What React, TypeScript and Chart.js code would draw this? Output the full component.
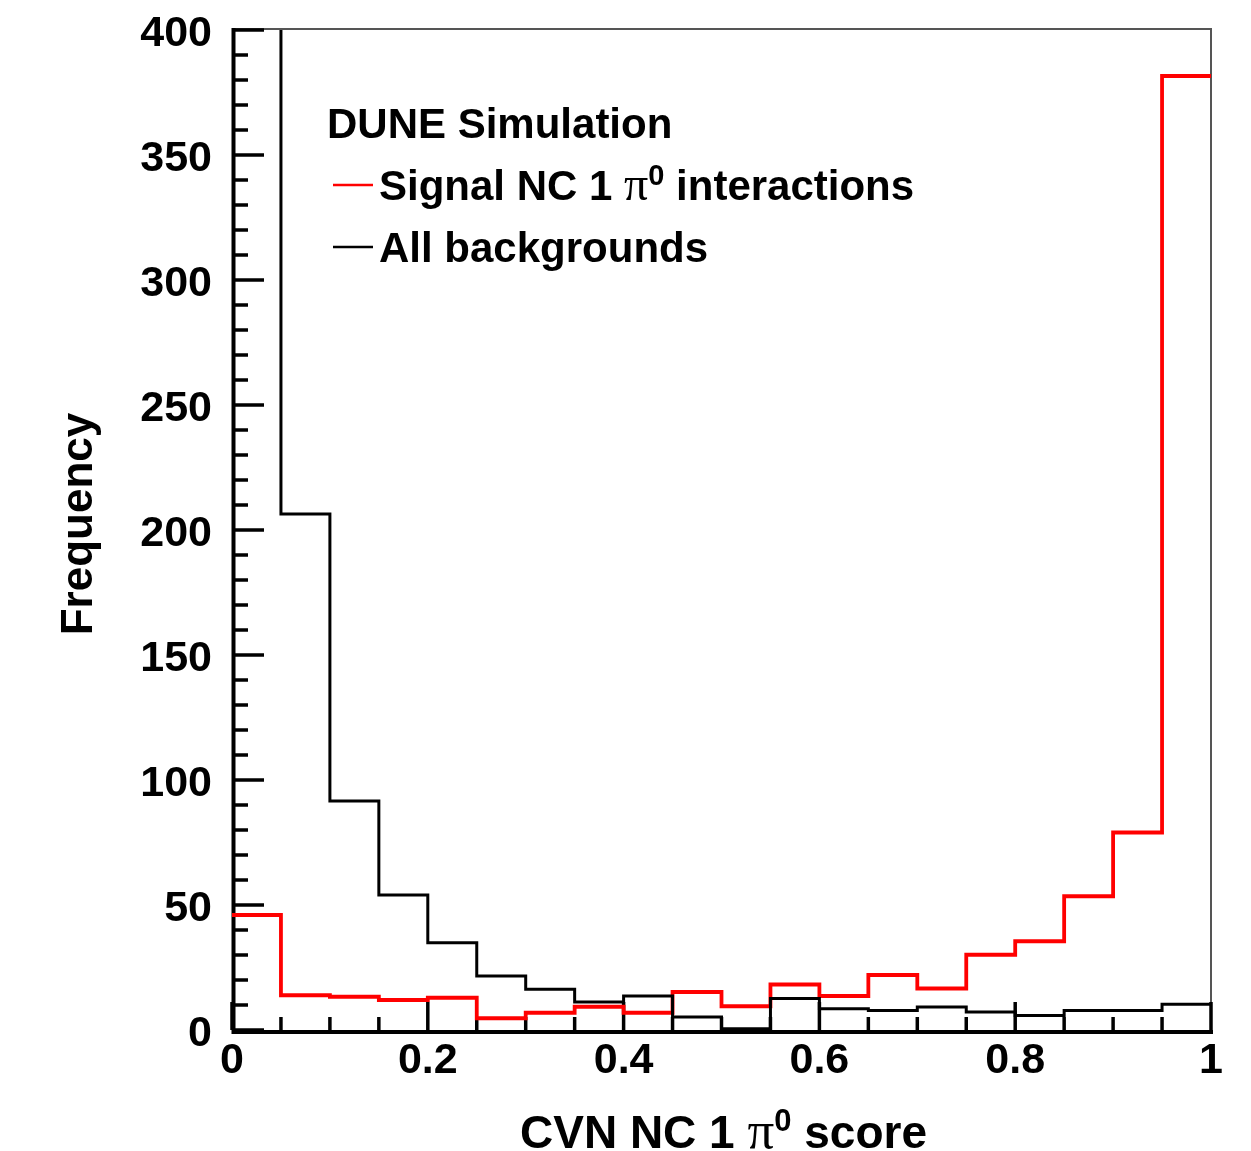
import React, { useEffect, useRef } from 'react';
import { Chart, registerables } from 'chart.js';

Chart.register(...registerables);

// ---- data ----
const binEdges = [0, 0.05, 0.1, 0.15, 0.2, 0.25, 0.3, 0.35, 0.4, 0.45, 0.5, 0.55, 0.6, 0.65, 0.7, 0.75, 0.8, 0.85, 0.9, 0.95, 1.0];
const signalCounts = [46, 13.9, 13.3, 12, 12.9, 4.7, 6.9, 9.3, 6.9, 15.2, 9.5, 18.2, 13.6, 22, 16.6, 30.1, 35.5, 53.5, 79, 381.6];
const backgroundCounts = [600, 206.4, 91.6, 54, 34.9, 21.6, 16.3, 11.2, 13.6, 5.2, 0.5, 12.6, 8.5, 7.8, 9.2, 7.2, 5.8, 7.8, 7.8, 10.3];

const yMajorTicks = [0, 50, 100, 150, 200, 250, 300, 350, 400];
const yMinorTicks = [10, 20, 30, 40, 60, 70, 80, 90, 110, 120, 130, 140, 160, 170, 180, 190, 210, 220, 230, 240, 260, 270, 280, 290, 310, 320, 330, 340, 360, 370, 380, 390];
const xMajorTicks = [0, 0.2, 0.4, 0.6, 0.8, 1];
const xMinorTicks = [0.05, 0.1, 0.15, 0.25, 0.3, 0.35, 0.45, 0.5, 0.55, 0.65, 0.7, 0.75, 0.85, 0.9, 0.95];

const seriesNames = ['Signal NC 1 π⁰ interactions', 'All backgrounds'];
const legendHeader = 'DUNE Simulation';
const xTitle = 'CVN NC 1 π⁰ score';
const yTitle = 'Frequency';

const SANS = '"Liberation Sans", Arial, Helvetica, sans-serif';
const SERIF = '"Liberation Serif", "Times New Roman", serif';

function histPoints(counts: number[]) {
  const pts = counts.map((c, i) => ({ x: binEdges[i], y: c }));
  pts.push({ x: binEdges[binEdges.length - 1], y: counts[counts.length - 1] });
  return pts;
}

type Seg = { text: string; font: string; dy: number };

// split a label into segments, rendering π in serif and ⁰ as a raised 0
function richSegments(label: string, size: number): Seg[] {
  const segs: Seg[] = [];
  const bold = `bold ${size}px ${SANS}`;
  let buf = '';
  const flush = () => {
    if (buf) segs.push({ text: buf, font: bold, dy: 0 });
    buf = '';
  };
  for (const ch of label) {
    if (ch === 'π') {
      flush();
      segs.push({ text: 'π', font: `${Math.round(size * 1.15)}px ${SERIF}`, dy: 0 });
    } else if (ch === '⁰') {
      flush();
      segs.push({ text: '0', font: `bold ${Math.round(size * 0.68)}px ${SANS}`, dy: -size * 0.36 });
    } else {
      buf += ch;
    }
  }
  flush();
  return segs;
}

function drawRich(ctx: CanvasRenderingContext2D, segs: Seg[], x: number, y: number, align: 'left' | 'center') {
  ctx.textAlign = 'left';
  ctx.textBaseline = 'alphabetic';
  let total = 0;
  for (const s of segs) {
    ctx.font = s.font;
    total += ctx.measureText(s.text).width;
  }
  let cx = align === 'center' ? x - total / 2 : x;
  for (const s of segs) {
    ctx.font = s.font;
    ctx.fillText(s.text, cx, y + s.dy);
    cx += ctx.measureText(s.text).width;
  }
}

const decorPlugin = {
  id: 'rootDecor',
  beforeDatasetsDraw(chart: any) {
    const { ctx, chartArea: a, scales } = chart;
    const xs = scales.x;
    const ys = scales.y;
    ctx.save();
    // thin frame top / right
    ctx.strokeStyle = '#555';
    ctx.lineWidth = 2;
    ctx.beginPath();
    ctx.moveTo(a.left, a.top - 1);
    ctx.lineTo(a.right, a.top - 1);
    ctx.lineTo(a.right, a.bottom);
    ctx.stroke();

    ctx.strokeStyle = '#000';
    ctx.lineCap = 'butt';
    ctx.lineWidth = 3.5;
    // y ticks (inward)
    const yTick = (v: number, len: number) => {
      const py = ys.getPixelForValue(v);
      ctx.beginPath();
      ctx.moveTo(a.left, py);
      ctx.lineTo(a.left + len, py);
      ctx.stroke();
    };
    yMajorTicks.forEach((v) => yTick(v, 32));
    yMinorTicks.forEach((v) => yTick(v, 16));
    // x ticks (inward)
    const xTick = (v: number, len: number) => {
      const px = xs.getPixelForValue(v);
      ctx.beginPath();
      ctx.moveTo(px, a.bottom);
      ctx.lineTo(px, a.bottom - len);
      ctx.stroke();
    };
    xMajorTicks.forEach((v) => xTick(v, 28));
    xMinorTicks.forEach((v) => xTick(v, 13));

    // thick axes
    ctx.lineWidth = 4;
    ctx.beginPath();
    ctx.moveTo(a.left + 1.5, a.top - 2);
    ctx.lineTo(a.left + 1.5, a.bottom + 2);
    ctx.lineTo(a.right + 2, a.bottom + 2);
    ctx.stroke();
    ctx.restore();
  },
  afterDraw(chart: any) {
    const { ctx, chartArea: a } = chart;
    ctx.save();
    ctx.fillStyle = '#000';
    // y title
    ctx.save();
    ctx.translate(92, 524);
    ctx.rotate(-Math.PI / 2);
    ctx.font = `bold 44px ${SANS}`;
    ctx.textAlign = 'center';
    ctx.textBaseline = 'alphabetic';
    ctx.fillText(yTitle, 0, 0);
    ctx.restore();
    // x title
    drawRich(ctx, richSegments(xTitle, 46), (a.left + a.right) / 2 + 2, 1148, 'center');

    // legend
    ctx.font = `bold 42px ${SANS}`;
    ctx.textAlign = 'left';
    ctx.textBaseline = 'alphabetic';
    ctx.fillText(legendHeader, 327, 138);

    const legendColors = ['#ff0000', '#000000'];
    const rowY = [200, 262];
    seriesNames.forEach((name, i) => {
      ctx.strokeStyle = legendColors[i];
      ctx.lineWidth = 2.5;
      ctx.beginPath();
      ctx.moveTo(333, rowY[i] - 15);
      ctx.lineTo(373, rowY[i] - 15);
      ctx.stroke();
      ctx.fillStyle = '#000';
      drawRich(ctx, richSegments(name, 42), 379, rowY[i], 'left');
    });
    ctx.restore();
  },
};

export default function App() {
  const canvasRef = useRef<HTMLCanvasElement | null>(null);

  useEffect(() => {
    const canvas = canvasRef.current;
    if (!canvas) return;
    const chart = new Chart(canvas, {
      type: 'line',
      data: {
        datasets: [
          {
            label: seriesNames[1],
            data: histPoints(backgroundCounts),
            borderColor: '#000000',
            borderWidth: 3,
            stepped: true,
            pointRadius: 0,
            fill: false,
          },
          {
            label: seriesNames[0],
            data: histPoints(signalCounts),
            borderColor: '#ff0000',
            borderWidth: 3.8,
            stepped: true,
            pointRadius: 0,
            fill: false,
          },
        ],
      },
      options: {
        responsive: false,
        animation: false,
        devicePixelRatio: 1,
        layout: { padding: { top: 30, right: 40, left: 0, bottom: 0 } },
        plugins: { legend: { display: false }, tooltip: { enabled: false }, title: { display: false } },
        scales: {
          x: {
            type: 'linear',
            min: 0,
            max: 1,
            grid: { display: false, drawTicks: false },
            border: { display: false },
            afterBuildTicks: (scale: any) => {
              scale.ticks = xMajorTicks.map((v) => ({ value: v }));
            },
            afterFit: (scale: any) => {
              scale.height = 121;
              scale.paddingLeft = 0;
              scale.paddingRight = 0;
            },
            ticks: {
              autoSkip: false,
              maxRotation: 0,
              padding: 5,
              color: '#000',
              font: { family: SANS, weight: 'bold', size: 43 },
              callback: (v: any) => String(Math.round(Number(v) * 10) / 10),
            },
          },
          y: {
            type: 'linear',
            min: 0,
            max: 400,
            grid: { display: false, drawTicks: false },
            border: { display: false },
            afterBuildTicks: (scale: any) => {
              scale.ticks = yMajorTicks.map((v) => ({ value: v }));
            },
            afterFit: (scale: any) => {
              scale.width = 232;
              scale.paddingTop = 0;
              scale.paddingBottom = 0;
            },
            ticks: {
              autoSkip: false,
              padding: 20,
              labelOffset: 4,
              color: '#000',
              font: { family: SANS, weight: 'bold', size: 43 },
              callback: (v: any) => String(v),
            },
          },
        },
      } as any,
      plugins: [decorPlugin],
    });
    return () => chart.destroy();
  }, []);

  return (
    <div style={{ position: 'absolute', left: 0, top: 0, width: 1251, height: 1151, background: '#fff' }}>
      <canvas ref={canvasRef} width={1251} height={1151} style={{ display: 'block', width: 1251, height: 1151 }} />
    </div>
  );
}
